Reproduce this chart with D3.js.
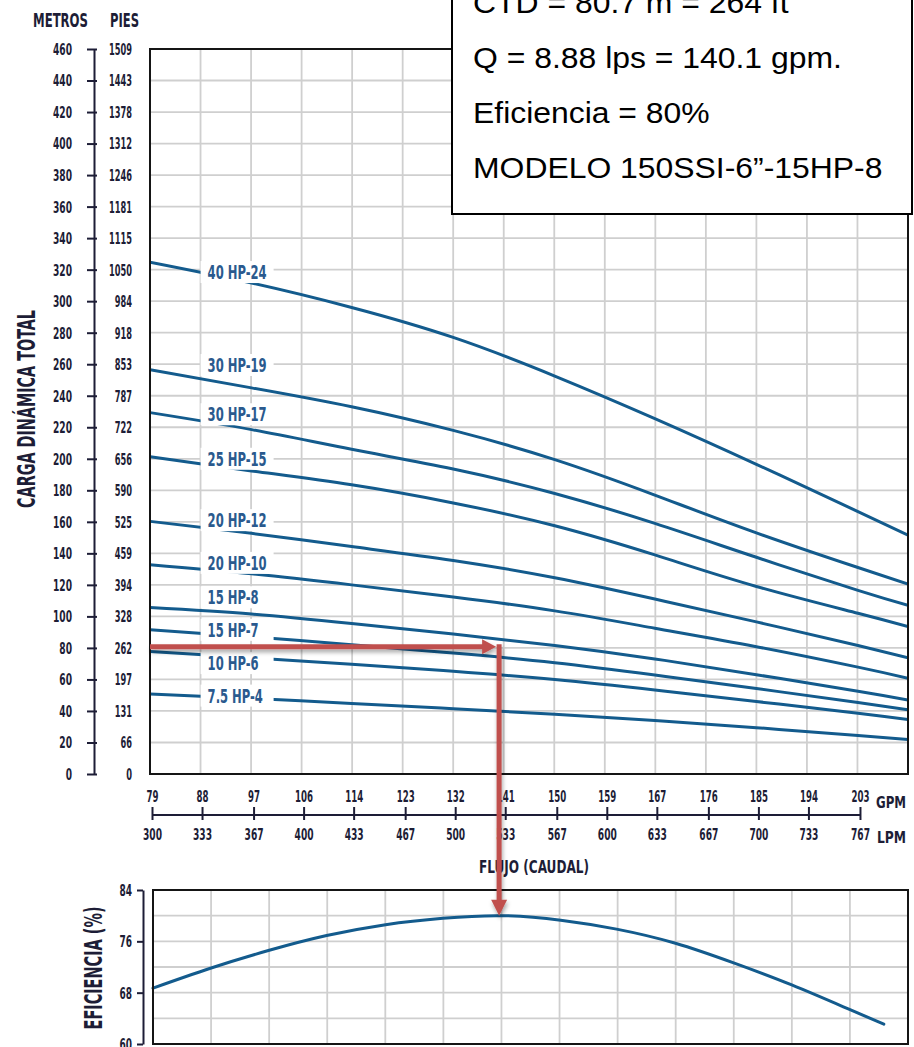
<!DOCTYPE html>
<html>
<head>
<meta charset="utf-8">
<script src="https://cdn.jsdelivr.net/npm/d3@7"></script>
<style>
  html, body { margin: 0; padding: 0; background: #fff; }
  svg { display: block; }
</style>
</head>
<body>
<svg id="chart" width="914" height="1047"></svg>
<script>
// ---- Data -------------------------------------------------------------
// Flow positions (LPM) at which each head curve is sampled
const flowPoints = [300, 367, 433, 500, 567, 633, 700, 767, 800];

// Head (m) for each pump model at flowPoints
const curveNames = ["40 HP-24", "30 HP-19", "30 HP-17", "25 HP-15", "20 HP-12",
                    "20 HP-10", "15 HP-8", "15 HP-7", "10 HP-6", "7.5 HP-4"];
const head40hp24 = [324.7, 311.5, 296.0, 277.0, 252.5, 225.5, 196.5, 166.5, 151.5];
const head30hp19 = [256.5, 245.0, 233.0, 218.0, 199.5, 177.0, 153.0, 131.0, 120.5];
const head30hp17 = [229.3, 218.5, 206.0, 193.5, 178.0, 159.0, 137.5, 116.5, 107.0];
const head25hp15 = [201.3, 192.3, 183.5, 172.0, 157.5, 139.0, 119.0, 102.0, 93.5];
const head20hp12 = [160.3, 152.7, 144.3, 135.5, 124.5, 111.0, 96.5, 81.5, 73.8];
const head20hp10 = [132.8, 127.0, 120.0, 112.3, 103.5, 92.5, 80.8, 67.8, 60.8];
const head15hp8  = [105.6, 101.5, 95.5, 88.8, 81.5, 73.0, 63.0, 52.5, 47.0];
const head15hp7  = [91.5, 87.0, 82.0, 76.7, 70.6, 62.8, 54.2, 45.4, 40.8];
const head10hp6  = [77.7, 73.7, 69.7, 65.2, 59.9, 53.3, 46.0, 38.5, 34.5];
const head7hp4   = [50.7, 47.9, 44.8, 41.4, 37.9, 34.0, 29.4, 24.4, 21.9];
const headSeries = [head40hp24, head30hp19, head30hp17, head25hp15, head20hp12,
                    head20hp10, head15hp8, head15hp7, head10hp6, head7hp4];

// Efficiency (%) vs flow (LPM)
const effFlow  = [300, 338, 377, 415, 454, 492, 531, 570, 607, 646, 685, 723, 762, 784];
const effValue = [68.7, 71.8, 74.6, 76.9, 78.6, 79.6, 80.0, 79.3, 77.9, 75.7, 72.6, 69.2, 65.3, 63.1];

// Axis tick labels
const metrosTicks = [0, 20, 40, 60, 80, 100, 120, 140, 160, 180, 200, 220, 240,
                     260, 280, 300, 320, 340, 360, 380, 400, 420, 440, 460];
const piesTicks   = [0, 66, 131, 197, 262, 328, 394, 459, 525, 590, 656, 722, 787,
                     853, 918, 984, 1050, 1115, 1181, 1246, 1312, 1378, 1443, 1509];
const lpmTicks = [300, 333, 367, 400, 433, 467, 500, 533, 567, 600, 633, 667, 700, 733, 767];
const gpmTicks = [79, 88, 97, 106, 114, 123, 132, 141, 150, 159, 167, 176, 185, 194, 203];
const effTicks = [60, 68, 76, 84];

// Selected operating point
const opHeadM = 80.7;
const opHeadFt = 264;
const opFlowLps = 8.88;
const opFlowGpm = 140.1;
const opEff = 80;
const opModel = "150SSI-6\u201D-15HP-8";

// ---- Styling ----------------------------------------------------------
const NARROW = "'Liberation Sans Narrow','DejaVu Sans Condensed','Arial Narrow',sans-serif";
const ARIAL = "'Liberation Sans',Arial,Helvetica,sans-serif";
const INK = "#1d1d36";
const BLUE = "#135b8d";
const LABEL_BLUE = "#2a5a8e";
const RED = "#c0504d";
const GRID = "#cfcfcf";

const svg = d3.select("#chart");

function narrowText(sel, size) {
  return sel.attr("font-family", NARROW).attr("font-weight", "bold").attr("font-size", size);
}
// natural width of a sample string in the narrow face at a given size
function measure(str, size) {
  const t = narrowText(svg.append("text").text(str), size);
  const w = t.node().getComputedTextLength();
  t.remove();
  return w;
}
// compress every text of a selection so that `sample` would span `target` px
function condenseLike(sel, size, sample, target) {
  const k = target / measure(sample, size);
  sel.each(function () {
    const w = this.getComputedTextLength();
    if (w > 0) {
      this.setAttribute("textLength", (w * k).toFixed(1));
      this.setAttribute("lengthAdjust", "spacingAndGlyphs");
    }
  });
  return sel;
}
function fitTo(sel, width) {
  return sel.attr("textLength", width).attr("lengthAdjust", "spacingAndGlyphs");
}

const defs = svg.append("defs");
defs.append("clipPath").attr("id", "plotClip")
  .append("rect").attr("x", 150).attr("y", 49).attr("width", 758).attr("height", 725);
const shadow = defs.append("filter").attr("id", "arrowShadow")
  .attr("filterUnits", "userSpaceOnUse")
  .attr("x", 0).attr("y", 0).attr("width", 914).attr("height", 1047);
shadow.append("feDropShadow").attr("dx", 1).attr("dy", 3).attr("stdDeviation", 2)
  .attr("flood-color", "#000").attr("flood-opacity", 0.35);

// ---- Head chart -------------------------------------------------------
const x = d3.scaleLinear().domain([300, 800]).range([150, 908]);
const y = d3.scaleLinear().domain([0, 460]).range([774, 49]);

// grid
const grid = svg.append("g").attr("stroke", GRID).attr("stroke-width", 1.8);
const gridFlows = d3.range(1, 15).map(k => 300 + k * 500 / 15);
grid.selectAll("line.v").data(gridFlows).join("line").attr("class", "v")
  .attr("x1", d => x(d)).attr("x2", d => x(d))
  .attr("y1", y(460)).attr("y2", y(0));
grid.selectAll("line.h").data(metrosTicks.filter(d => d > 0 && d < 460)).join("line").attr("class", "h")
  .attr("x1", x(300)).attr("x2", x(800))
  .attr("y1", d => y(d)).attr("y2", d => y(d));

// head curves
const headLine = d3.line()
  .x(d => x(d[0])).y(d => y(d[1]))
  .curve(d3.curveNatural);
svg.append("g").attr("clip-path", "url(#plotClip)")
  .selectAll("path").data(headSeries).join("path")
  .attr("d", s => headLine(flowPoints.map((f, i) => [f, s[i]])))
  .attr("fill", "none").attr("stroke", BLUE).attr("stroke-width", 3)
  .attr("stroke-linecap", "round");

// curve labels on white plates that break the curve and grid
const labelFlow = 338;
const labelNudge = [5, -8, -1, 1, -1, 0, -7, 3, 15, 6];
const labels = svg.append("g");
curveNames.forEach((name, i) => {
  const interp = d3.scaleLinear().domain(flowPoints).range(headSeries[i]);
  const lx = x(labelFlow);
  const ly = y(interp(labelFlow)) + labelNudge[i];
  const g = labels.append("g").attr("class", "curve-label");
  g.append("rect").attr("x", lx - 7).attr("y", ly - 18).attr("width", 73).attr("height", 22)
    .attr("fill", "#fff");
  narrowText(g.append("text").attr("x", lx).attr("y", ly).attr("fill", LABEL_BLUE).text(name), 20);
});
condenseLike(labels.selectAll("text"), 20, "40 HP-24", 59);

// plot frame
svg.append("rect").attr("x", x(300)).attr("y", y(460))
  .attr("width", x(800) - x(300)).attr("height", y(0) - y(460))
  .attr("fill", "none").attr("stroke", "#151515").attr("stroke-width", 2);

// metres axis
const gy = svg.append("g").attr("transform", "translate(94,0)")
  .call(d3.axisLeft(y).tickValues(metrosTicks).tickSizeInner(7).tickSizeOuter(0).tickPadding(15));
gy.attr("font-size", null).attr("font-family", null);
gy.select(".domain").attr("stroke", INK).attr("stroke-width", 2);
gy.selectAll(".tick line").attr("stroke", INK).attr("stroke-width", 2).attr("x1", 3);
narrowText(gy.selectAll(".tick text").attr("fill", INK).attr("dy", "0.36em"), 15);
condenseLike(gy.selectAll(".tick text"), 15, "460", 19);
// feet labels next to each metre tick
const feetText = gy.selectAll(".tick").append("text")
  .attr("class", "feet")
  .attr("x", 132 - 94).attr("dy", "0.36em").attr("text-anchor", "end").attr("fill", INK)
  .text(d => piesTicks[metrosTicks.indexOf(d)]);
narrowText(feetText, 15);
condenseLike(feetText, 15, "1509", 23);

// column headers
const metros = narrowText(svg.append("text").attr("x", 33).attr("y", 27).attr("fill", INK).text("METROS"), 19);
fitTo(metros, 55);
const pies = narrowText(svg.append("text").attr("x", 110).attr("y", 27).attr("fill", INK).text("PIES"), 19);
fitTo(pies, 29);

// y title
const yTitle = svg.append("text")
  .attr("transform", "translate(35,409) rotate(-90)")
  .attr("text-anchor", "middle").attr("fill", INK)
  .text("CARGA DINÁMICA TOTAL");
narrowText(yTitle, 25); fitTo(yTitle, 198);

// flow axis (GPM above, LPM below)
const gx = svg.append("g").attr("transform", "translate(2,815)")
  .call(d3.axisBottom(x).tickValues(lpmTicks).tickSizeInner(5).tickSizeOuter(0).tickPadding(0));
gx.attr("font-size", null).attr("font-family", null);
gx.select(".domain").remove();
gx.append("line")
  .attr("x1", x(lpmTicks[0])).attr("x2", x(lpmTicks[lpmTicks.length - 1]))
  .attr("stroke", INK).attr("stroke-width", 2);
gx.selectAll(".tick line").attr("stroke", INK).attr("stroke-width", 2).attr("y1", -8).attr("y2", 5);
narrowText(gx.selectAll(".tick text").attr("fill", INK).attr("y", 25).attr("dy", null), 15);
condenseLike(gx.selectAll(".tick text"), 15, "300", 19);
const gpmText = gx.selectAll(".tick").append("text")
  .attr("class", "gpm")
  .attr("y", -13).attr("text-anchor", "middle").attr("fill", INK)
  .text(d => gpmTicks[lpmTicks.indexOf(d)]);
narrowText(gpmText, 15);
condenseLike(gpmText, 15, "106", 18);

// unit names, right-aligned just inside the page edge
const gpmUnit = narrowText(svg.append("text").attr("x", 906).attr("y", 808)
  .attr("text-anchor", "end").attr("fill", INK).text("GPM"), 16);
fitTo(gpmUnit, 30);
const lpmUnit = narrowText(svg.append("text").attr("x", 906).attr("y", 843)
  .attr("text-anchor", "end").attr("fill", INK).text("LPM"), 16);
fitTo(lpmUnit, 29);

const xTitle = svg.append("text").attr("x", 534).attr("y", 873).attr("text-anchor", "middle")
  .attr("fill", INK).text("FLUJO (CAUDAL)");
narrowText(xTitle, 18); fitTo(xTitle, 110);

// ---- Efficiency chart -------------------------------------------------
const xe = d3.scaleLinear().domain([300, 800]).range([153, 908]);
const ye = d3.scaleLinear().domain([60, 84]).range([1044, 890]);

const egrid = svg.append("g").attr("stroke", GRID).attr("stroke-width", 1.8);
egrid.selectAll("line.v").data(d3.range(1, 13).map(k => 300 + k * 500 / 13)).join("line")
  .attr("class", "v")
  .attr("x1", d => xe(d)).attr("x2", d => xe(d)).attr("y1", ye(84)).attr("y2", ye(60));
egrid.selectAll("line.h").data([64, 68, 72, 76, 80]).join("line").attr("class", "h")
  .attr("x1", xe(300)).attr("x2", xe(800)).attr("y1", d => ye(d)).attr("y2", d => ye(d));

svg.append("path")
  .attr("d", d3.line().x(d => xe(d[0])).y(d => ye(d[1])).curve(d3.curveNatural)(
    effFlow.map((f, i) => [f, effValue[i]])))
  .attr("fill", "none").attr("stroke", BLUE).attr("stroke-width", 3).attr("stroke-linecap", "round");

svg.append("rect").attr("x", xe(300)).attr("y", ye(84))
  .attr("width", xe(800) - xe(300)).attr("height", ye(60) - ye(84))
  .attr("fill", "none").attr("stroke", "#151515").attr("stroke-width", 2);

const ge = svg.append("g").attr("transform", "translate(143,0)")
  .call(d3.axisLeft(ye).tickValues(effTicks).tickSizeInner(6).tickSizeOuter(0).tickPadding(5));
ge.attr("font-size", null).attr("font-family", null);
ge.select(".domain").attr("stroke", INK).attr("stroke-width", 2);
ge.selectAll(".tick line").attr("stroke", INK).attr("stroke-width", 2);
narrowText(ge.selectAll(".tick text").attr("fill", INK).attr("dy", "0.36em"), 15);
condenseLike(ge.selectAll(".tick text"), 15, "84", 12.5);

const effTitle = svg.append("text")
  .attr("transform", "translate(102,968) rotate(-90)")
  .attr("text-anchor", "middle").attr("fill", INK)
  .text("EFICIENCIA (%)");
narrowText(effTitle, 24); fitTo(effTitle, 123);

// ---- Operating point arrows -------------------------------------------
const opFlowLpm = opFlowGpm * 3.785;
const xOp = x(opFlowLpm);
const yOp = y(opHeadM);
const yEff = ye(opEff);
const arrows = svg.append("g").attr("filter", "url(#arrowShadow)");
arrows.append("line")
  .attr("x1", x(300)).attr("x2", xOp - 15).attr("y1", yOp).attr("y2", yOp)
  .attr("stroke", RED).attr("stroke-width", 5);
arrows.append("path")
  .attr("d", `M${xOp - 3},${yOp} L${xOp - 17},${yOp - 7.5} L${xOp - 17},${yOp + 7.5} Z`)
  .attr("fill", RED);
arrows.append("line")
  .attr("x1", xOp).attr("x2", xOp).attr("y1", yOp - 2.5).attr("y2", yEff - 14)
  .attr("stroke", RED).attr("stroke-width", 5);
arrows.append("path")
  .attr("d", `M${xOp},${yEff} L${xOp - 8},${yEff - 16} L${xOp + 8},${yEff - 16} Z`)
  .attr("fill", RED);

// ---- Result box -------------------------------------------------------
svg.append("rect").attr("x", 452).attr("y", -4).attr("width", 460).attr("height", 218)
  .attr("fill", "#fff").attr("stroke", "#000").attr("stroke-width", 2);
const boxLines = [
  `CTD = ${opHeadM} m = ${opHeadFt} ft`,
  `Q = ${opFlowLps} lps = ${opFlowGpm} gpm.`,
  `Eficiencia = ${opEff}%`,
  `MODELO ${opModel}`
];
const boxText = svg.append("g").selectAll("text").data(boxLines).join("text")
  .attr("x", 473).attr("y", (d, i) => 13 + i * 55)
  .attr("font-family", ARIAL).attr("font-size", 29).attr("fill", "#000")
  .text(d => d);
boxText.each(function () {
  const w = this.getComputedTextLength();
  this.setAttribute("textLength", (w * 1.1).toFixed(1));
  this.setAttribute("lengthAdjust", "spacingAndGlyphs");
});
</script>
</body>
</html>
